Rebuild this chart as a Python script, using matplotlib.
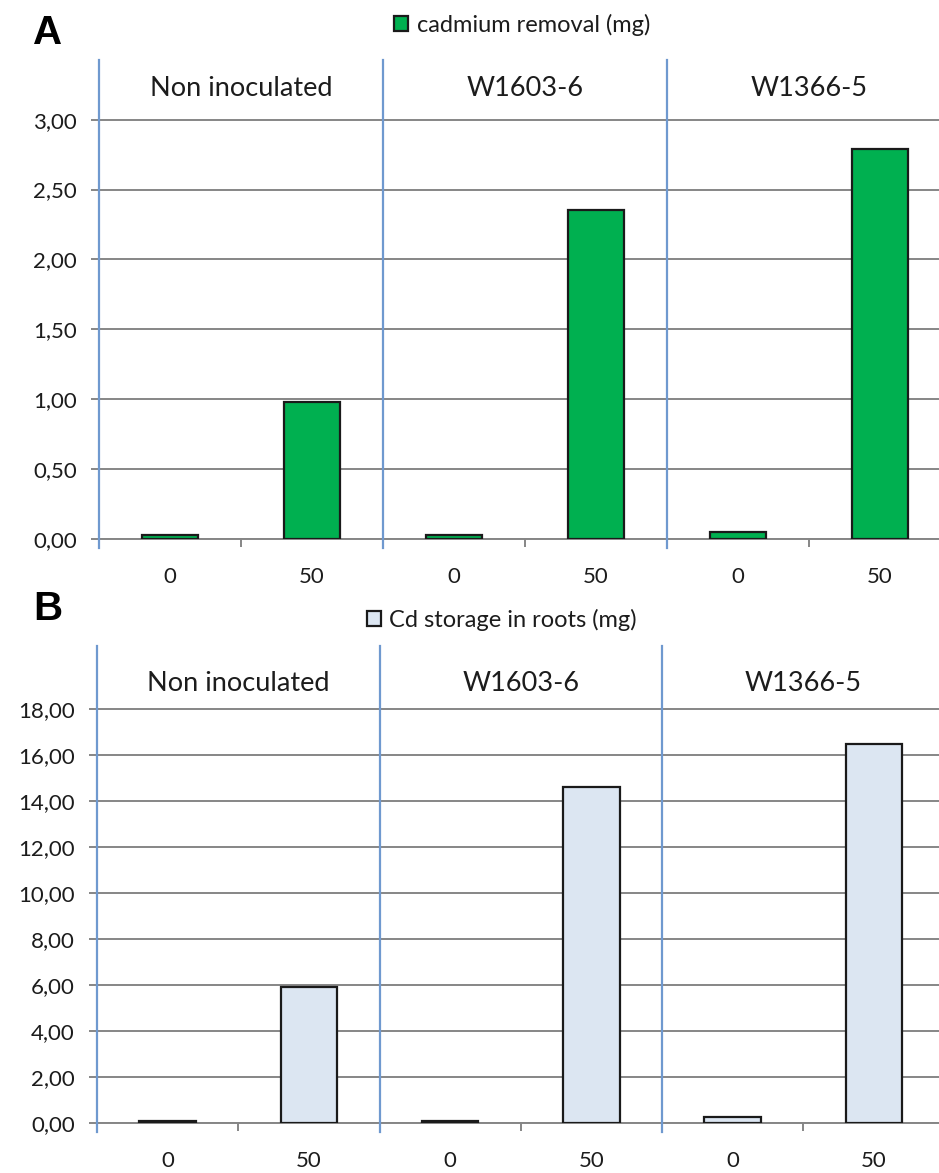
import matplotlib
matplotlib.use("Agg")
import matplotlib.pyplot as plt
from matplotlib.ticker import FixedLocator, FuncFormatter
from matplotlib.transforms import blended_transform_factory

# ---- data ----
groups = ["Non inoculated", "W1603-6", "W1366-5"]
doses = ["0", "50", "0", "50", "0", "50"]
cd_removal = [0.03, 0.98, 0.03, 2.35, 0.05, 2.79]
cd_roots = [0.10, 5.90, 0.10, 14.60, 0.25, 16.50]

W, H, DPI = 939, 1173, 100
fig = plt.figure(figsize=(W / DPI, H / DPI), dpi=DPI)
plt.rcParams["font.family"] = ["Lato", "DejaVu Sans"]

TXT = "#1c1c1c"
GRID = "#868686"
SEP = "#6f99cf"


def px_axes(left, right, top, bottom):
    return fig.add_axes([left / W, 1 - bottom / H, (right - left) / W, (bottom - top) / H])


def comma(v, _):
    return f"{v:.2f}".replace(".", ",")


def draw_panel(ax, values, color, ymax, ytop, ystep, label_y, legend_text, legend_xy, letter, letter_xy):
    x = list(range(len(values)))
    bars = ax.bar(x, values, width=0.4, color=color, edgecolor="#1a1a1a", linewidth=1.6,
                  zorder=3, label=legend_text)
    ax.set_xlim(-0.5, len(values) - 0.5)
    ax.set_ylim(0, ytop)

    for s in ("top", "right", "left"):
        ax.spines[s].set_visible(False)
    ax.spines["bottom"].set_color(GRID)
    ax.spines["bottom"].set_linewidth(1.4)

    ticks = [i * ystep for i in range(int(round(ymax / ystep)) + 1)]
    ax.yaxis.set_major_locator(FixedLocator(ticks))
    ax.yaxis.set_major_formatter(FuncFormatter(comma))
    ax.tick_params(axis="y", length=6, width=1.4, color=GRID, labelsize=16,
                   labelcolor=TXT, pad=10)
    ax.grid(axis="y", color=GRID, linewidth=1.4, zorder=0)

    ax.set_xticks(x)
    ax.set_xticklabels(doses)
    ax.tick_params(axis="x", which="major", length=0, labelsize=16, labelcolor=TXT, pad=20)
    ax.set_xticks([0.5, 2.5, 4.5], minor=True)
    ax.tick_params(axis="x", which="minor", length=6, width=1.4, color=GRID)

    trans = blended_transform_factory(ax.transData, ax.transAxes)
    for xs in (-0.5, 1.5, 3.5):
        ax.plot([xs, xs], [-0.018, 1.0], transform=trans, color=SEP, linewidth=1.6,
                clip_on=False, zorder=4)

    for i, g in enumerate(groups):
        ax.text(2 * i + 0.5, label_y, g, ha="center", va="center", fontsize=19.5, color=TXT)

    fig.legend(handles=[bars], labels=[legend_text], loc="center",
               bbox_to_anchor=(legend_xy[0] / W, 1 - legend_xy[1] / H), frameon=False,
               fontsize=17, handlelength=0.6, handleheight=0.6, handletextpad=0.35,
               labelcolor=TXT, borderpad=0)
    fig.text(letter_xy[0] / W, 1 - letter_xy[1] / H, letter, fontsize=29, fontweight="bold",
             family="Liberation Sans", ha="left", va="center", color="black")


axA = px_axes(99, 951, 60, 539)
draw_panel(axA, cd_removal, "#00b050", 3.0, (539 - 60) / 139.8, 0.5, 3.22,
           "cadmium removal (mg)", (522, 25), "A", (33, 33))

axB = px_axes(97, 944.5, 646, 1123)
draw_panel(axB, cd_roots, "#dce6f2", 18.0, (1123 - 646) / 23.0, 2.0, 19.1,
           "Cd storage in roots (mg)", (502, 620), "B", (33, 609))

fig.savefig("out.png", dpi=DPI)
